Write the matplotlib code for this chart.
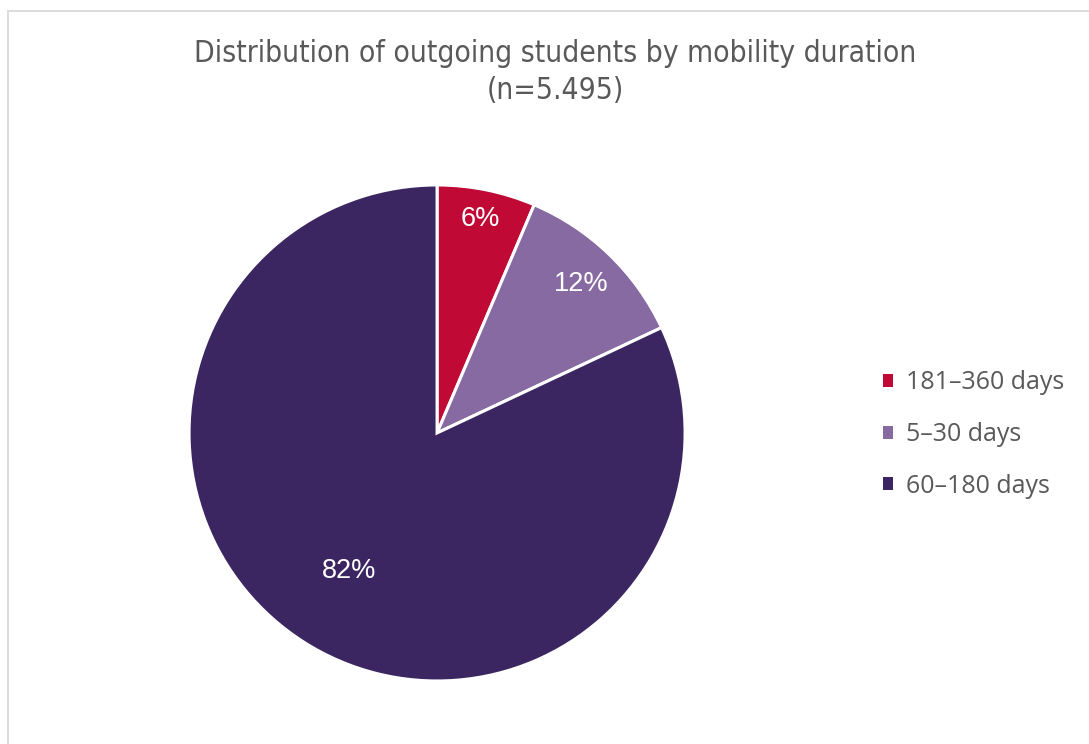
import numpy as np
import matplotlib.pyplot as plt
from matplotlib.patches import Patch, Rectangle

# Outgoing students per mobility duration (total n = 5.495)
categories = ["181\u2013360 days", "5\u201330 days", "60\u2013180 days"]
students = [352, 638, 4505]
colors = ["#C00A35", "#866AA1", "#3C2662"]
label_dist = [0.88, 0.835, 0.66]

fig = plt.figure(figsize=(10.89, 7.44), dpi=100)

# light frame round the chart area
fig.patches.append(Rectangle((8 / 1089, -0.1), 1.2, (744 - 11) / 744 + 0.1,
                             transform=fig.transFigure, fill=False,
                             edgecolor="#D9D9D9", linewidth=1.3))

ax = fig.add_axes([0.1736, 0.0847, 0.4555, 0.6667])
wedges, texts, autotexts = ax.pie(
    students, colors=colors, startangle=90, counterclock=False,
    autopct="%.0f%%", radius=1,
    wedgeprops=dict(edgecolor="white", linewidth=2.2))
ax.set_xlim(-1, 1)
ax.set_ylim(-1, 1)
ax.set_aspect("auto")

for w, t, d in zip(wedges, autotexts, label_dist):
    ang = np.deg2rad((w.theta1 + w.theta2) / 2)
    t.set_position((d * np.cos(ang), d * np.sin(ang)))
    t.set_color("white")
    t.set_fontsize(19.5)
    t.set_family("Liberation Sans")

fig.text(0.51, 0.903, "Distribution of outgoing students by mobility duration\n(n=5.495)",
         ha="center", va="center", fontsize=21.5, color="#595959",
         family="DejaVu Sans", stretch="condensed", linespacing=1.35)

handles = [Patch(facecolor=c, edgecolor="none") for c in colors]
fig.legend(handles, categories, loc="center left", bbox_to_anchor=(0.79, 0.416),
           frameon=False, labelcolor="#595959",
           handlelength=0.42, handleheight=0.42, handletextpad=0.5,
           labelspacing=1.07, prop=dict(family="Open Sans", size=18))

fig.savefig("out.png", dpi=100)
